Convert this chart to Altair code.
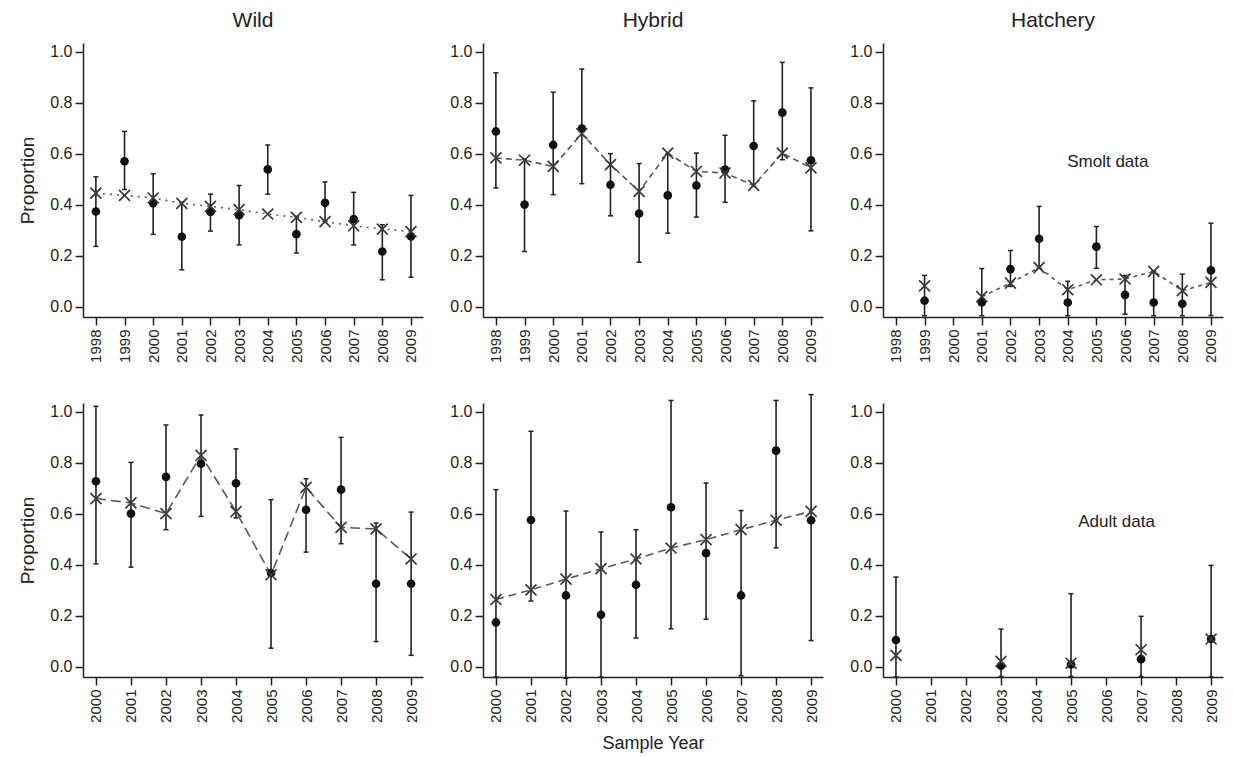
import altair as alt
import pandas as pd

FONT = "Liberation Sans"

# ---- sample years -------------------------------------------------------
smolt_years = list(range(1998, 2010))
adult_years = list(range(2000, 2010))

# ---- smolt data: observed proportion, interval, fitted value -----------
wild_smolt_obs = [0.374, 0.571, 0.407, 0.275, 0.372, 0.359, 0.539, 0.285, 0.408, 0.344, 0.217, 0.276]
wild_smolt_lo = [0.237, 0.460, 0.284, 0.145, 0.297, 0.243, 0.442, 0.211, 0.335, 0.243, 0.106, 0.116]
wild_smolt_hi = [0.510, 0.688, 0.522, 0.410, 0.442, 0.476, 0.635, 0.355, 0.490, 0.449, 0.322, 0.437]
wild_smolt_fit = [0.446, 0.437, 0.427, 0.406, 0.394, 0.381, 0.364, 0.351, 0.334, 0.318, 0.305, 0.295]

hybrid_smolt_obs = [0.688, 0.401, 0.635, 0.699, 0.479, 0.366, 0.437, 0.476, 0.538, 0.631, 0.762, 0.575]
hybrid_smolt_lo = [0.466, 0.217, 0.440, 0.483, 0.357, 0.175, 0.289, 0.352, 0.410, 0.473, 0.577, 0.298]
hybrid_smolt_hi = [0.918, 0.580, 0.842, 0.933, 0.601, 0.562, 0.600, 0.603, 0.673, 0.808, 0.959, 0.859]
hybrid_smolt_fit = [0.584, 0.575, 0.551, 0.679, 0.558, 0.453, 0.603, 0.531, 0.525, 0.476, 0.603, 0.545]

hatchery_smolt_obs = [None, 0.024, None, 0.017, 0.148, 0.267, 0.017, 0.236, 0.047, 0.017, 0.012, 0.143]
hatchery_smolt_lo = [None, -0.035, None, -0.035, 0.080, 0.152, -0.035, 0.151, -0.029, -0.035, -0.035, -0.034]
hatchery_smolt_hi = [None, 0.123, None, 0.150, 0.221, 0.394, 0.100, 0.315, 0.123, 0.140, 0.128, 0.328]
hatchery_smolt_fit = [None, 0.082, None, 0.040, 0.093, 0.154, 0.067, 0.106, 0.109, 0.139, 0.063, 0.096]

# ---- adult data ---------------------------------------------------------
wild_adult_obs = [0.728, 0.601, 0.745, 0.797, 0.720, 0.368, 0.616, 0.695, 0.326, 0.326]
wild_adult_lo = [0.404, 0.391, 0.538, 0.590, 0.584, 0.073, 0.450, 0.483, 0.099, 0.045]
wild_adult_hi = [1.022, 0.802, 0.949, 0.988, 0.855, 0.656, 0.738, 0.900, 0.564, 0.607]
wild_adult_fit = [0.660, 0.643, 0.601, 0.830, 0.609, 0.361, 0.704, 0.547, 0.541, 0.423]

hybrid_adult_obs = [0.174, 0.576, 0.280, 0.204, 0.322, 0.626, 0.446, 0.280, 0.848, 0.575]
hybrid_adult_lo = [-0.040, 0.258, -0.045, -0.040, 0.113, 0.149, 0.187, -0.035, 0.467, 0.103]
hybrid_adult_hi = [0.695, 0.924, 0.611, 0.529, 0.538, 1.045, 0.721, 0.613, 1.045, 1.068]
hybrid_adult_fit = [0.264, 0.302, 0.344, 0.385, 0.423, 0.466, 0.499, 0.538, 0.575, 0.610]

hatchery_adult_obs = [0.105, None, None, 0.004, None, 0.009, None, 0.030, None, 0.109]
hatchery_adult_lo = [-0.040, None, None, -0.038, None, -0.038, None, -0.038, None, -0.040]
hatchery_adult_hi = [0.352, None, None, 0.148, None, 0.287, None, 0.198, None, 0.398]
hatchery_adult_fit = [0.045, None, None, 0.021, None, 0.014, None, 0.067, None, 0.109]

# ---- shared scale / axis settings --------------------------------------
Y_DOMAIN = [-0.04, 1.035]
SMOLT_X_DOMAIN = [1997.55, 2009.42]
ADULT_X_DOMAIN = [1999.63, 2009.34]
PANEL_W = 340
PANEL_H = 274
INK = "#222222"


def frame(years, obs, lo, hi, fit):
    rows = []
    seg = 0
    prev_missing = False
    for yr, o, l, h, f in zip(years, obs, lo, hi, fit):
        if o is None:
            prev_missing = True
            continue
        if prev_missing:
            seg += 1
            prev_missing = False
        rows.append({"year": yr, "obs": o, "lo": l, "hi": h, "fit": f, "seg": seg})
    return pd.DataFrame(rows)


def panel(years, obs, lo, hi, fit, x_domain, dash, title=None, y_title=None,
          x_title=None, note=None, note_pos=None, draw_line=True):
    df = frame(years, obs, lo, hi, fit)
    x_axis = alt.Axis(values=years, format="d", labelAngle=270, labelAlign="right",
                      labelBaseline="middle", tickSize=8, labelPadding=4,
                      labelFontSize=15, titleFontSize=18, titlePadding=12,
                      titleFontWeight="normal")
    y_axis = alt.Axis(values=[0, 0.2, 0.4, 0.6, 0.8, 1.0], format=".1f", tickSize=8,
                      labelPadding=3, labelFontSize=16, titleFontSize=19,
                      titlePadding=12, titleFontWeight="normal")
    x = alt.X("year:Q", scale=alt.Scale(domain=x_domain, nice=False, zero=False),
              axis=x_axis, title=x_title)

    def y(field):
        return alt.Y(f"{field}:Q", scale=alt.Scale(domain=Y_DOMAIN, nice=False, zero=False),
                     axis=y_axis, title=y_title)

    base = alt.Chart(df)
    bars = base.mark_rule(color=INK, strokeWidth=1.6).encode(x=x, y=y("lo"), y2="hi:Q")
    cap_shape = "M-1,0L1,0"
    cap_lo = base.mark_point(shape=cap_shape, size=25, stroke=INK, strokeWidth=1.5,
                             filled=False, opacity=1).encode(x=x, y=y("lo"))
    cap_hi = base.mark_point(shape=cap_shape, size=25, stroke=INK, strokeWidth=1.5,
                             filled=False, opacity=1).encode(x=x, y=y("hi"))
    dots = base.mark_circle(size=75, color="#111111", opacity=1).encode(x=x, y=y("obs"))
    crosses = base.mark_point(shape="M-1,-1L1,1M-1,1L1,-1", size=120, stroke="#3a3a3a",
                              strokeWidth=1.7, filled=False, opacity=1).encode(x=x, y=y("fit"))
    layers = [bars, cap_lo, cap_hi]
    if draw_line:
        line = base.mark_line(color="#5a5a5a", strokeWidth=1.6, strokeDash=dash).encode(
            x=x, y=y("fit"), detail="seg:N")
        layers.append(line)
    layers += [dots, crosses]
    if note:
        note_df = pd.DataFrame([{"year": note_pos[0], "val": note_pos[1], "label": note}])
        text = alt.Chart(note_df).mark_text(fontSize=17, font=FONT, color=INK).encode(
            x=x, y=y("val"), text="label:N")
        layers.append(text)
    chart = alt.layer(*layers).properties(width=PANEL_W, height=PANEL_H)
    if title:
        chart = chart.properties(title=alt.TitleParams(title, fontSize=21, fontWeight="normal",
                                                       font=FONT, color=INK, offset=12))
    return chart


p1 = panel(smolt_years, wild_smolt_obs, wild_smolt_lo, wild_smolt_hi, wild_smolt_fit,
           SMOLT_X_DOMAIN, [2, 5], title="Wild", y_title="Proportion")
p2 = panel(smolt_years, hybrid_smolt_obs, hybrid_smolt_lo, hybrid_smolt_hi, hybrid_smolt_fit,
           SMOLT_X_DOMAIN, [6, 4], title="Hybrid")
p3 = panel(smolt_years, hatchery_smolt_obs, hatchery_smolt_lo, hatchery_smolt_hi,
           hatchery_smolt_fit, SMOLT_X_DOMAIN, [4, 4], title="Hatchery",
           note="Smolt data", note_pos=(2005.4, 0.57))
p4 = panel(adult_years, wild_adult_obs, wild_adult_lo, wild_adult_hi, wild_adult_fit,
           ADULT_X_DOMAIN, [10, 5], y_title="Proportion")
p5 = panel(adult_years, hybrid_adult_obs, hybrid_adult_lo, hybrid_adult_hi, hybrid_adult_fit,
           ADULT_X_DOMAIN, [8, 5], x_title="Sample Year")
p6 = panel(adult_years, hatchery_adult_obs, hatchery_adult_lo, hatchery_adult_hi,
           hatchery_adult_fit, ADULT_X_DOMAIN, [4, 4], note="Adult data",
           note_pos=(2006.3, 0.57), draw_line=False)

chart = (
    alt.concat(p1, p2, p3, p4, p5, p6, columns=3,
               spacing={"row": 86, "column": 60}, bounds="flush")
    .properties(padding={"left": 18, "top": 10, "right": 5, "bottom": 5}, background="white")
    .configure_view(stroke=None)
    .configure_axis(labelFont=FONT, titleFont=FONT, labelColor=INK, titleColor=INK,
                    domainColor=INK, tickColor=INK, domainWidth=1.5, tickWidth=1.5, grid=False)
    .configure_text(font=FONT)
)

chart.save("out.html", embed_options={"renderer": "svg", "actions": False})
